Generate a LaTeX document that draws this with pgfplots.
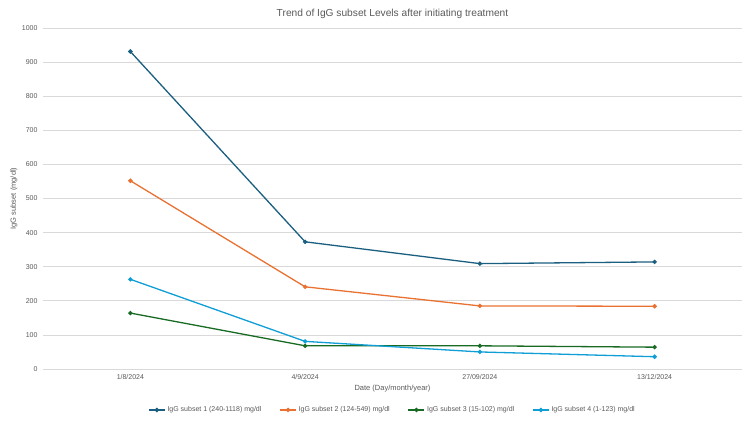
\documentclass[border=0pt]{standalone}
\usepackage{pgfplots}
\pgfplotsset{compat=1.18}
\usepackage{fontspec}
\setmainfont{Liberation Sans}
\definecolor{c1}{HTML}{1A5F80}
\definecolor{c2}{HTML}{E97132}
\definecolor{c3}{HTML}{196B24}
\definecolor{c4}{HTML}{0F9ED5}
\definecolor{txt}{HTML}{595959}
\definecolor{grd}{HTML}{D9D9D9}
\begin{document}
\begin{tikzpicture}
\useasboundingbox (0,0) rectangle (750pt,422pt);
\begin{axis}[
  at={(43pt,53pt)}, anchor=south west,
  width=699pt, height=341pt, scale only axis,
  xmin=-0.5, xmax=3.5, ymin=0, ymax=1000,
  xtick={0,1,2,3},
  xticklabels={1/8/2024,4/9/2024,27/09/2024,13/12/2024},
  ytick={0,100,...,1000},
  axis line style={draw=none},
  axis x line*=bottom,
  ymajorgrids, major grid style={grd, line width=0.6pt},
  tick style={draw=none},
  every tick label/.append style={font=\fontsize{7}{8}\selectfont, text=txt},
  /pgf/number format/assume math mode=true,
  /pgf/number format/1000 sep={},
  xticklabel style={yshift=-2pt},
  yticklabel style={xshift=-2pt},
  xlabel={Date (Day/month/year)},
  ylabel={IgG subset (mg/dl)},
  label style={font=\fontsize{7.5}{8}\selectfont, text=txt},
  xlabel style={at={(axis description cs:0.5,0)}, anchor=center, yshift=-20pt},
  ylabel style={at={(axis description cs:0,0.5)}, anchor=center, yshift=29pt},
  title={Trend of IgG subset Levels after initiating treatment},
  title style={at={(axis description cs:0.5,1)}, anchor=center, yshift=8pt, font=\fontsize{10.2}{12}\selectfont, text=txt},
  legend columns=4,
  legend style={at={(0.5,-0.1202)}, anchor=center, draw=none, fill=none,
    font=\fontsize{7}{8}\selectfont, text=txt,
    /tikz/every even column/.append style={column sep=16pt}},
  legend image code/.code={\draw[mark repeat=2,mark phase=2] plot coordinates {(0pt,0pt) (8pt,0pt) (16pt,0pt)};},
  every axis plot/.append style={line width=1.3pt, mark=*, mark size=1.5pt},
]
\addplot[c1, mark options={fill=c1}] coordinates {(0,931) (1,373) (2,309) (3,314)};
\addlegendentry{IgG subset 1 (240-1118) mg/dl}
\addplot[c2, mark options={fill=c2}] coordinates {(0,552) (1,241) (2,185) (3,184)};
\addlegendentry{IgG subset 2 (124-549) mg/dl}
\addplot[c3, mark options={fill=c3}] coordinates {(0,164) (1,68) (2,68) (3,64)};
\addlegendentry{IgG subset 3 (15-102) mg/dl}
\addplot[c4, mark options={fill=c4}] coordinates {(0,263) (1,81) (2,50) (3,36)};
\addlegendentry{IgG subset 4 (1-123) mg/dl}
\end{axis}
\end{tikzpicture}
\end{document}
